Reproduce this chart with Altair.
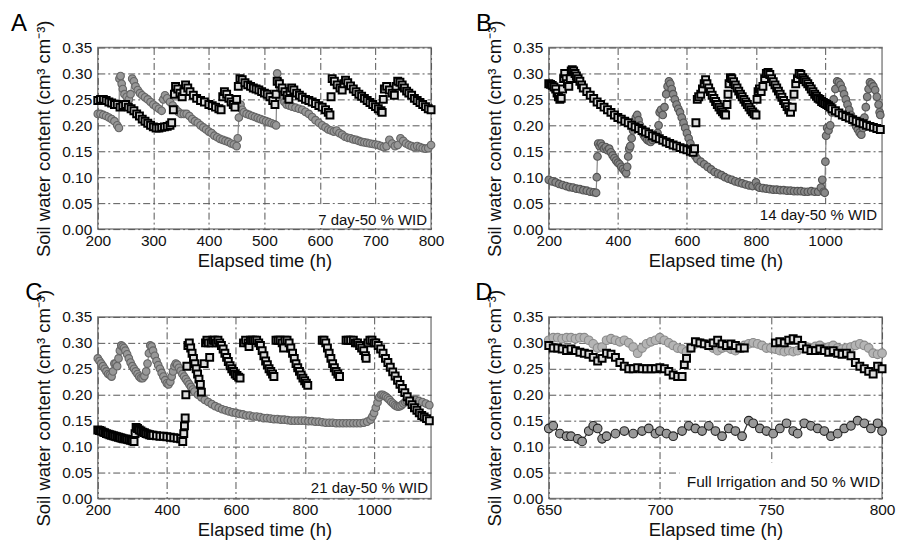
import altair as alt
import pandas as pd

FONT = "Liberation Sans"

# ---------------- Panel A (7 day-50 % WID) ----------------
A_SQ = [(200,.248),(205,.25),(210,.25),(215,.248),(220,.245),(225,.243),(230,.24),(235,.24),(240,.235),(245,.238),(250,.24),(255,.235),(260,.232),(265,.228),(270,.222),(275,.218),(280,.212),(285,.208),(290,.204),(295,.2),(300,.197),(305,.195),(310,.195),(315,.196),(320,.197),(325,.198),(330,.2),(333,.205),(336,.23),(338,.26),(340,.275),(344,.27),(348,.262),(352,.255),(355,.265),(358,.278),(362,.272),(366,.265),(372,.258),(378,.252),(385,.248),(392,.245),(400,.24),(406,.238),(412,.235),(418,.232),(422,.23),(425,.255),(428,.265),(432,.26),(436,.252),(440,.245),(444,.24),(447,.235),(450,.25),(453,.275),(456,.29),(460,.288),(465,.282),(470,.278),(475,.275),(480,.272),(485,.27),(490,.268),(495,.265),(500,.262),(505,.26),(510,.255),(515,.248),(519,.24),(521,.26),(523,.285),(527,.28),(532,.272),(537,.265),(541,.258),(544,.25),(546,.265),(549,.272),(553,.268),(558,.262),(563,.258),(568,.254),(574,.25),(580,.248),(586,.245),(592,.242),(598,.238),(604,.235),(610,.23),(615,.225),(618,.22),(620,.255),(622,.29),(626,.285),(631,.278),(636,.272),(640,.268),(643,.28),(646,.287),(650,.282),(655,.276),(660,.27),(665,.265),(670,.26),(675,.256),(680,.252),(685,.248),(690,.244),(695,.24),(700,.236),(705,.232),(710,.228),(712,.225),(714,.25),(716,.27),(720,.275),(725,.268),(730,.262),(734,.258),(737,.275),(740,.285),(744,.283),(748,.278),(752,.272),(756,.266),(760,.262),(765,.258),(770,.252),(775,.248),(780,.244),(785,.24),(790,.236),(795,.232),(800,.23)]
A_CI = [(200,.222),(205,.222),(210,.22),(215,.218),(220,.215),(225,.212),(230,.208),(235,.2),(238,.195),(239,.29),(241,.295),(243,.28),(245,.27),(248,.26),(252,.255),(256,.25),(259,.26),(262,.29),(265,.285),(268,.275),(272,.268),(276,.262),(280,.258),(285,.254),(290,.25),(295,.245),(300,.24),(305,.236),(310,.232),(315,.228),(318,.25),(321,.258),(325,.252),(330,.245),(335,.238),(340,.232),(345,.226),(350,.222),(355,.222),(360,.222),(365,.218),(370,.212),(375,.208),(380,.205),(385,.2),(390,.196),(395,.192),(400,.188),(405,.185),(410,.18),(415,.177),(420,.174),(425,.172),(430,.17),(435,.168),(440,.165),(445,.163),(450,.16),(452,.175),(454,.215),(457,.24),(460,.23),(463,.225),(468,.222),(473,.22),(478,.218),(483,.216),(488,.214),(493,.212),(498,.21),(503,.208),(508,.206),(513,.204),(518,.202),(521,.2),(523,.3),(526,.285),(529,.27),(532,.255),(536,.245),(540,.24),(545,.238),(550,.236),(556,.234),(562,.232),(568,.23),(574,.226),(580,.222),(586,.216),(592,.21),(598,.205),(604,.2),(610,.196),(615,.192),(620,.19),(625,.188),(630,.19),(635,.185),(640,.182),(645,.178),(650,.176),(655,.175),(660,.173),(665,.172),(670,.17),(675,.168),(680,.167),(685,.166),(690,.165),(695,.164),(700,.163),(705,.162),(710,.16),(715,.158),(720,.16),(725,.172),(730,.165),(735,.16),(740,.162),(745,.175),(750,.17),(755,.165),(760,.162),(765,.16),(770,.158),(775,.16),(780,.158),(785,.156),(790,.155),(795,.156),(800,.162)]

# ---------------- Panel B (14 day-50 % WID) ----------------
B_SQ = [(200,.28),(205,.279),(210,.277),(215,.274),(220,.27),(224,.262),(228,.255),(232,.25),(236,.252),(240,.27),(243,.29),(246,.3),(250,.29),(254,.28),(258,.275),(262,.29),(265,.305),(268,.307),(272,.305),(276,.3),(280,.295),(285,.29),(290,.285),(295,.278),(300,.272),(310,.265),(320,.258),(330,.252),(340,.245),(350,.24),(360,.235),(370,.23),(380,.225),(390,.22),(400,.215),(410,.212),(420,.208),(430,.205),(440,.2),(450,.197),(460,.194),(470,.19),(480,.187),(490,.184),(500,.18),(510,.177),(520,.174),(530,.171),(540,.168),(550,.165),(560,.162),(570,.16),(580,.157),(590,.155),(600,.153),(610,.15),(618,.148),(622,.155),(626,.205),(630,.25),(634,.255),(640,.26),(645,.27),(650,.28),(654,.288),(658,.28),(663,.272),(668,.265),(673,.258),(678,.252),(683,.246),(688,.24),(693,.235),(698,.23),(703,.226),(708,.222),(712,.22),(716,.24),(719,.26),(722,.28),(726,.292),(730,.29),(735,.284),(740,.278),(745,.272),(750,.266),(755,.26),(760,.255),(765,.25),(770,.245),(775,.24),(780,.235),(785,.23),(790,.226),(795,.222),(800,.22),(803,.25),(806,.265),(810,.27),(815,.265),(820,.275),(825,.29),(830,.3),(835,.302),(840,.298),(845,.29),(850,.284),(855,.278),(860,.272),(865,.266),(870,.26),(875,.254),(880,.248),(885,.242),(890,.236),(895,.23),(900,.225),(905,.235),(910,.26),(915,.28),(920,.29),(925,.3),(930,.298),(935,.292),(940,.288),(945,.284),(950,.28),(955,.275),(960,.27),(965,.265),(970,.26),(975,.256),(980,.252),(985,.25),(990,.246),(995,.244),(1000,.242),(1005,.24),(1010,.238),(1015,.235),(1020,.232),(1030,.228),(1040,.224),(1050,.22),(1060,.217),(1070,.214),(1080,.211),(1090,.208),(1100,.205),(1110,.203),(1120,.2),(1130,.198),(1140,.196),(1150,.194),(1160,.192)]
B_CI = [(200,.095),(210,.092),(220,.09),(230,.087),(240,.085),(250,.083),(260,.081),(270,.08),(280,.078),(290,.077),(300,.075),(310,.074),(320,.072),(330,.071),(337,.07),(339,.1),(341,.14),(343,.165),(347,.16),(351,.165),(355,.16),(360,.155),(365,.158),(370,.152),(375,.155),(380,.148),(385,.142),(390,.137),(395,.132),(400,.128),(405,.125),(410,.12),(415,.116),(420,.112),(424,.108),(427,.12),(430,.14),(433,.155),(436,.16),(440,.175),(444,.19),(448,.2),(452,.215),(456,.22),(460,.21),(464,.2),(468,.192),(472,.185),(476,.18),(480,.176),(485,.172),(490,.17),(495,.168),(500,.172),(505,.175),(510,.178),(515,.185),(518,.2),(521,.225),(525,.23),(530,.22),(535,.235),(540,.26),(544,.275),(548,.285),(552,.28),(556,.27),(560,.26),(565,.25),(570,.24),(575,.232),(580,.225),(585,.215),(590,.205),(595,.195),(600,.185),(605,.175),(610,.165),(615,.155),(620,.145),(625,.14),(630,.135),(640,.13),(650,.125),(660,.12),(670,.115),(680,.11),(690,.107),(700,.104),(710,.1),(720,.097),(730,.095),(740,.092),(750,.09),(760,.088),(770,.086),(780,.084),(790,.083),(800,.09),(805,.082),(810,.08),(820,.079),(830,.078),(840,.077),(850,.076),(860,.076),(870,.075),(880,.075),(890,.074),(900,.074),(910,.073),(920,.073),(930,.073),(940,.072),(950,.072),(960,.073),(970,.072),(980,.072),(988,.08),(992,.095),(996,.072),(999,.07),(1001,.13),(1003,.18),(1006,.195),(1010,.19),(1015,.2),(1020,.225),(1025,.25),(1030,.27),(1035,.285),(1040,.283),(1045,.278),(1050,.27),(1055,.26),(1060,.25),(1065,.24),(1070,.23),(1075,.22),(1080,.212),(1085,.205),(1090,.198),(1095,.192),(1100,.186),(1105,.182),(1110,.195),(1114,.215),(1118,.235),(1122,.255),(1126,.27),(1130,.283),(1135,.28),(1140,.275),(1145,.268),(1150,.255),(1155,.24),(1158,.225),(1160,.22)]

# ---------------- Panel C (21 day-50 % WID) ----------------
C_SQ = [(200,.132),(205,.131),(210,.13),(215,.128),(220,.127),(225,.125),(230,.124),(235,.123),(240,.122),(245,.121),(250,.12),(255,.119),(260,.118),(265,.117),(270,.116),(275,.115),(280,.115),(285,.114),(290,.113),(295,.112),(300,.111),(305,.11),(308,.125),(311,.137),(315,.135),(320,.132),(325,.13),(330,.128),(335,.127),(340,.125),(345,.124),(350,.123),(355,.122),(360,.122),(370,.121),(380,.12),(390,.12),(400,.119),(410,.118),(420,.117),(430,.116),(440,.115),(446,.11),(449,.125),(451,.14),(453,.155),(455,.2),(458,.255),(461,.295),(465,.3),(469,.29),(473,.28),(477,.27),(481,.26),(485,.25),(489,.24),(493,.23),(497,.22),(500,.205),(508,.26),(512,.3),(516,.305),(520,.3),(524,.272),(528,.3),(533,.305),(538,.305),(543,.3),(548,.305),(553,.3),(558,.295),(563,.288),(568,.28),(573,.272),(578,.264),(583,.256),(588,.25),(593,.245),(598,.24),(603,.237),(608,.234),(612,.232),(622,.3),(628,.305),(635,.3),(638,.293),(642,.305),(648,.305),(654,.305),(660,.305),(666,.3),(671,.295),(676,.285),(681,.275),(686,.265),(691,.258),(696,.25),(701,.245),(706,.24),(710,.235),(716,.305),(722,.305),(728,.305),(734,.3),(738,.29),(742,.305),(748,.305),(754,.3),(759,.29),(764,.28),(769,.27),(774,.26),(779,.252),(784,.245),(789,.238),(794,.232),(799,.227),(804,.222),(808,.218),(850,.305),(855,.305),(860,.3),(865,.29),(870,.28),(875,.27),(880,.26),(885,.252),(890,.245),(895,.24),(900,.235),(919,.305),(925,.305),(932,.305),(940,.305),(946,.3),(952,.3),(958,.295),(964,.29),(970,.285),(975,.275),(977,.27),(982,.3),(988,.305),(994,.305),(1000,.3),(1005,.3),(1012,.295),(1019,.288),(1026,.28),(1033,.27),(1040,.262),(1047,.253),(1054,.244),(1061,.236),(1068,.228),(1075,.22),(1082,.212),(1089,.204),(1096,.196),(1103,.188),(1110,.181),(1117,.175),(1124,.17),(1131,.165),(1138,.16),(1145,.157),(1152,.154),(1160,.15)]
C_CI = [(200,.27),(205,.265),(210,.26),(215,.255),(220,.25),(225,.245),(230,.24),(235,.238),(240,.235),(244,.245),(248,.26),(252,.26),(256,.255),(260,.27),(264,.285),(268,.295),(272,.293),(276,.29),(280,.285),(285,.278),(290,.27),(295,.262),(300,.255),(305,.25),(310,.245),(315,.24),(320,.235),(325,.232),(330,.232),(335,.236),(340,.245),(344,.26),(348,.28),(352,.295),(356,.293),(360,.285),(365,.275),(370,.265),(375,.257),(380,.25),(385,.242),(390,.235),(395,.228),(400,.222),(405,.22),(410,.225),(414,.235),(418,.245),(422,.255),(426,.26),(430,.258),(435,.252),(440,.246),(445,.24),(450,.235),(455,.23),(460,.225),(465,.22),(470,.215),(475,.21),(480,.206),(490,.2),(500,.195),(510,.19),(520,.186),(530,.182),(540,.178),(550,.175),(560,.172),(570,.17),(580,.168),(590,.166),(600,.165),(610,.163),(620,.162),(630,.16),(640,.16),(650,.158),(660,.158),(670,.157),(680,.155),(690,.155),(700,.154),(710,.153),(720,.153),(730,.152),(740,.152),(750,.151),(760,.15),(770,.15),(780,.15),(790,.15),(800,.15),(810,.149),(820,.149),(830,.148),(840,.148),(850,.147),(860,.146),(870,.146),(880,.146),(890,.145),(900,.145),(910,.145),(920,.145),(930,.145),(940,.145),(950,.145),(960,.145),(970,.146),(980,.148),(990,.152),(995,.158),(1000,.165),(1005,.175),(1010,.185),(1015,.195),(1020,.2),(1025,.2),(1030,.198),(1035,.196),(1040,.193),(1045,.19),(1050,.186),(1055,.183),(1060,.18),(1065,.178),(1070,.177),(1075,.178),(1080,.18),(1085,.183),(1090,.186),(1095,.188),(1100,.19),(1110,.19),(1120,.19),(1130,.188),(1140,.186),(1150,.183),(1160,.18)]

# ---------------- Panel D (Full Irrigation and 50 % WID) ----------------
D_CI_TOP = [(650,.305),(652,.31),(654,.31),(656,.308),(658,.31),(660,.31),(662,.308),(664,.31),(666,.31),(668,.305),(670,.298),(672,.29),(674,.292),(676,.305),(678,.308),(680,.305),(682,.302),(684,.305),(686,.3),(688,.292),(690,.28),(692,.29),(694,.298),(696,.302),(698,.305),(700,.31),(702,.305),(704,.3),(706,.295),(708,.29),(710,.288),(712,.283),(714,.29),(716,.298),(718,.3),(720,.298),(722,.295),(724,.29),(726,.285),(728,.29),(730,.292),(732,.288),(734,.285),(736,.29),(738,.295),(740,.298),(742,.3),(744,.298),(746,.295),(748,.29),(750,.29),(752,.288),(754,.285),(756,.283),(758,.285),(760,.283),(762,.285),(764,.29),(766,.292),(768,.29),(770,.293),(772,.295),(774,.29),(776,.292),(778,.295),(780,.29),(782,.288),(784,.29),(786,.292),(788,.295),(790,.298),(792,.295),(794,.29),(796,.28),(798,.278),(800,.28)]
D_SQ = [(650,.295),(652,.29),(654,.29),(656,.288),(658,.285),(660,.288),(662,.285),(664,.282),(666,.28),(668,.278),(670,.272),(672,.265),(674,.27),(676,.28),(678,.278),(680,.272),(682,.262),(684,.255),(686,.25),(688,.25),(690,.252),(692,.25),(694,.25),(696,.25),(698,.25),(700,.252),(702,.25),(704,.245),(706,.238),(708,.235),(710,.235),(711,.258),(712,.27),(714,.29),(716,.302),(718,.3),(720,.298),(722,.295),(724,.3),(726,.305),(728,.298),(730,.295),(732,.298),(734,.295),(736,.29),(738,.29),(752,.3),(754,.302),(756,.3),(758,.305),(760,.308),(762,.305),(764,.295),(766,.288),(768,.285),(770,.285),(772,.288),(774,.285),(776,.282),(778,.285),(780,.28),(782,.278),(784,.28),(786,.275),(788,.262),(790,.255),(792,.25),(794,.245),(796,.24),(798,.255),(800,.25)]
D_CI_LOW = [(650,.135),(652,.14),(655,.125),(658,.12),(660,.12),(663,.115),(665,.11),(668,.13),(670,.14),(672,.135),(674,.115),(676,.12),(680,.125),(684,.13),(688,.125),(692,.13),(695,.135),(698,.125),(700,.13),(703,.125),(706,.12),(710,.13),(713,.14),(716,.135),(719,.13),(722,.14),(725,.13),(728,.12),(731,.135),(734,.13),(737,.12),(740,.15),(742,.145),(745,.135),(748,.13),(751,.125),(754,.135),(757,.145),(760,.13),(762,.125),(765,.145),(768,.14),(771,.135),(774,.13),(777,.12),(780,.125),(783,.135),(786,.14),(789,.15),(792,.145),(795,.135),(798,.145),(800,.13)]

X_TICKS_A = [200, 300, 400, 500, 600, 700, 800]
X_TICKS_BC = [200, 400, 600, 800, 1000]
X_TICKS_D = [650, 700, 750, 800]
Y_TICKS = [0, 0.05, 0.10, 0.15, 0.20, 0.25, 0.30, 0.35]

W, H = 334, 182
Y_TITLE = "Soil water content (cm³ cm⁻³)"
X_TITLE = "Elapsed time (h)"


def df(pairs):
    return pd.DataFrame(pairs, columns=["t", "v"])


def enc(xdom, xticks):
    x = alt.X("t:Q", scale=alt.Scale(domain=xdom, nice=False, zero=False, padding=0),
              axis=alt.Axis(values=xticks, title=X_TITLE, format="d"))
    y = alt.Y("v:Q", scale=alt.Scale(domain=[0, 0.35], nice=False, padding=0),
              axis=alt.Axis(values=Y_TICKS, title=Y_TITLE, format=".2f"))
    return x, y


def panel(circles, squares, xdom, xticks, letter, letter_x, note, note_x, note_y,
          note_size, box_x, box_y, msize=58):
    x, y = enc(xdom, xticks)
    one = pd.DataFrame({"k": [0]})
    layers = []
    for pairs, fill, stroke, lc in circles:
        d = df(pairs)
        layers.append(alt.Chart(d).mark_line(color=lc, strokeWidth=1.2).encode(x=x, y=y))
        layers.append(alt.Chart(d).mark_point(shape="circle", filled=True, fill=fill,
                                              stroke=stroke, strokeWidth=1.1, size=msize,
                                              opacity=1).encode(x=x, y=y))
    for pairs in squares:
        layers.append(alt.Chart(df(pairs)).mark_point(shape="square", filled=True,
                                                      fill="#dcdcdc", stroke="#000",
                                                      strokeWidth=2, size=48,
                                                      opacity=1).encode(x=x, y=y))
    box = alt.Chart(one).mark_rect(fill="white").encode(
        x=alt.value(box_x), x2=alt.value(W - 1), y=alt.value(box_y), y2=alt.value(H - 1))
    txt = alt.Chart(one).mark_text(font=FONT, fontSize=note_size, align="right",
                                   baseline="middle", color="#111").encode(
        x=alt.value(note_x), y=alt.value(note_y), text=alt.value(note))
    lab = alt.Chart(one).mark_text(font=FONT, fontSize=24, align="center",
                                   baseline="alphabetic", color="#000").encode(
        x=alt.value(letter_x), y=alt.value(-17), text=alt.value(letter))
    return alt.layer(*layers, box, txt, lab).properties(width=W, height=H)


GRAY_FILL, GRAY_STROKE, GRAY_LINE = "#989898", "#666666", "#888888"

pA = panel([(A_CI, GRAY_FILL, GRAY_STROKE, GRAY_LINE)], [A_SQ], [200, 800], X_TICKS_A,
           "A", -79, "7 day-50 % WID", 330, 173, 15, 214, 157)
pB = panel([(B_CI, "#888888", "#555555", GRAY_LINE)], [B_SQ], [200, 1165], X_TICKS_BC,
           "B", -65, "14 day-50 % WID", 329, 168, 15, 203, 157)
pC = panel([(C_CI, GRAY_FILL, GRAY_STROKE, GRAY_LINE)], [C_SQ], [200, 1165], X_TICKS_BC,
           "C", -64, "21 day-50 % WID", 331, 171, 15, 206, 160)
pD = panel([(D_CI_TOP, "#b4b4b4", "#8a8a8a", "#9a9a9a"),
            (D_CI_LOW, "#999999", "#222222", "#333333")], [D_SQ], [650, 800], X_TICKS_D,
           "D", -65, "Full Irrigation and 50 % WID", 332, 165, 15.5, 131, 146, msize=75)

chart = alt.concat(pA, pB, pC, pD, columns=2,
                   spacing={"row": 88, "column": 118}, bounds="flush").properties(
    padding={"left": 10, "top": 10, "right": 5, "bottom": 5}
).configure_axis(
    labelFont=FONT, labelFontSize=15.5, labelColor="#111", labelPadding=6,
    labelFlush=False, labelOverlap=False,
    titleFont=FONT, titleFontSize=18.5, titleFontWeight="normal", titleColor="#111",
    domain=False, ticks=False, grid=True, gridColor="#555555", gridDash=[7, 3, 2, 3],
    gridWidth=1, gridOpacity=1
).configure_axisX(titlePadding=3, labelPadding=4).configure_axisY(titlePadding=8).configure_view(
    stroke="#888888", strokeWidth=1.5
)

chart.save("out.html", embed_options={"renderer": "svg", "actions": False})
